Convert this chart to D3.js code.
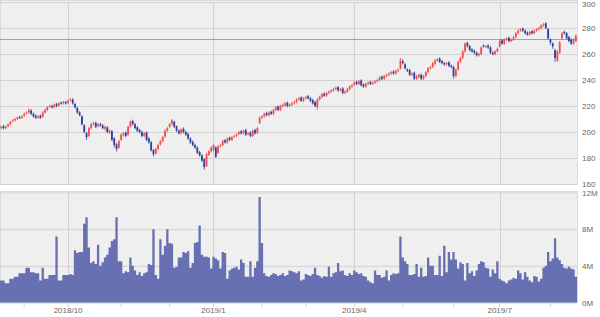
<!DOCTYPE html>
<html>
<head>
<meta charset="utf-8">
<script src="https://cdn.jsdelivr.net/npm/d3@7"></script>
<style>
  body { margin: 0; background: #fff; }
  svg { display: block; font-family: "DejaVu Sans Mono", monospace; }
  .tick text { fill: #666; font-size: 8px; }
</style>
</head>
<body>
<div id="chart"></div>
<script>
// trading calendar (US market), 2018/8/20 - 2019/8/16
var holidays = ['2018-09-03', '2018-11-22', '2018-12-05', '2018-12-25', '2019-01-01',
  '2019-01-21', '2019-02-18', '2019-04-19', '2019-05-27', '2019-07-04'];
var fmt = d3.timeFormat('%Y-%m-%d');
var dates = d3.timeDay.range(new Date(2018, 7, 20), new Date(2019, 7, 17))
  .filter((d) => d.getDay() !== 0 && d.getDay() !== 6 && holidays.indexOf(fmt(d)) < 0);

var open = [
  203,204.5,203,204.5,206,208.5,209,210,211.5,211,
  212.5,214.5,215,216.5,214,212.5,211,212.5,211.5,215,217,219.5,220,219,221.5,220.5,222.5,222,223,
  222.5,224.5,225,221.5,218.5,215,212,205,199,197,203,206.5,207,204.5,206,205,202.5,203.5,199.5,200.5,195,190.5,188,
  194,197.5,199.5,198,204,208.5,206,203.5,201.5,200,197,199.5,195,192,186,183.5,187,190.5,193,196.5,201,
  204,206,208,204.5,201,199,202.5,200,198.5,195,192.5,190,188,184.5,182,179,174,182.5,185,
  186,188,184,189.5,190,193.5,192,195.5,194,196.5,197,198.5,200.5,199,201.5,198.5,199.5,197,201.5,199.5,207,
  211,212,214.5,213,215.5,214,217,219.5,217,220,220.5,222.5,220,221,222,223,225,226.5,224,
  226,227.5,226,224.5,223,219,225,227,229.5,228,230,231,232,233,234.5,232,233.5,230,231,233,235,
  236.5,238.5,237,239.5,236.5,235,237,238.5,237,238,239,240,242.5,241,243,244,245,246.5,245,247,249,
  254.5,252,248,247.5,244,245.5,241,242.5,244,241,243,246,249,250,252.5,255,256.5,254.5,253,252,253.5,251,
  250,243,248,254,257,262,268.5,266,263.5,262.5,261,259,260,266.5,265.5,266.5,265,261,260,262,
  266,270.5,268,271,272.5,270,271,273,276,278,279.5,278,276.5,275,277.5,276,278,279,280,282,283.5,279,
  271,268,263,255,261,272,277,276,273,271,268,270
];
var high = [
  205,205.5,205,206.5,208.5,210,211,212,212.5,213,
  215,216,218,217.5,215,213.5,213,213.5,216,218,220,221,221,222,222.5,223,223.5,224,224,
  225,226,226,222.5,219.5,216,213,206,200,204,207,208,208,207,207,206,205,204.5,202,201.5,196,191.5,194,
  199,200,200.5,205,209,209.5,207,204.5,202.5,201,200,200.5,196,193,187,188,191,194,197,202,204,
  207,210,208.5,205,202,203,203.5,201,199.5,196,193.5,191,189,185.5,183,180,184,186,189,
  191,189,190,191,194,194.5,196,196.5,197,198,199,201,201.5,202,202.5,200,200.5,202,202.5,204,212,
  213,215,215.5,216,216.5,218,220,220.5,221,222,223,223.5,222,223,224,226,227,227.5,227,
  228,228.5,227,225.5,224,226,228,230,230.5,231,232,233,234,235,235.5,234,234.5,232,234,236,237,
  239,239.5,240,240.5,237.5,238,239,239.5,239,240,241,243,243.5,244,245,246,247,247.5,248,249,257,
  256,253,249,248.5,246,246.5,244,245,245,244,247,250,251,254,256,257,257.5,255.5,254,254,254.5,252,
  251,249,255,258,263,269,269.5,267,264.5,263.5,262,261,266,267.5,267,267.5,266,262,263,265,
  271,271.5,272,273,273.5,272,274,277,279,280,280.5,279,277.5,278,278.5,279,280,281,283,284,284.5,280,
  272,269,264,263,270,277,278,277,274,272,272,275
];
var low = [
  202,202,202,203.5,205,207.5,208,209,210,210,
  211.5,213.5,214,213,211,210,210,210,211,214,216,218.5,218,218,219,219.5,221,221,221,
  221.5,223.5,221,218,214,212,205,199,194,196,202,205,203,203.5,204,202,201,199,198.5,193,188,185,187,
  193,196.5,196,197,203,205,202,200,199,196,196,193,191,185,181,182.5,186,189.5,192,195.5,200,
  203,205,203,200,198,198,199,197,194,191,189,187,183,181,177,171,173,181.5,184,
  185,180,183,188,189,191,191,193,193,195.5,196,197.5,198,198,197,197.5,196,196,198,198.5,206,
  210,211,212,212,213,213,216,216,216,219,219.5,219,219,220,221,222,224,223,223,
  225,225,223,221,219,217,224,226,227,227,229,230,231,232,231,231,229,229,230,232,234,
  235.5,236,236,235,234,234,236,236,236,237,238,239,240,240,242,243,244,244,244,246,248,
  252,248,246,243,243,240,240,241.5,240,240,242,245,248,249,251.5,254,253,252,251,251,250,249,
  241,242,247,253,256,261,265,262,261,260,258,258,259,265,264.5,264,260,259,259,261,
  265,267,267,270,269,269,270,272,275,277,277,275,274,274,275,275,277,278,279,281,279,271,
  267,264,254,254,260,271,275,271,269,267,267,269
];
var close = [
  204,203,204,206,208,209,210,211,211,212,
  214,215,217,214,212,211,212,211,215,217,219,220,219,221,220,222,222,223,222,
  224,225,222,219,215,213,206,200,196,203,206,207,204,206,205,203,204,200,201,194,190,187,193,
  198,199,197,204,208,206,203,201,200,197,199,194,192,186,183,187,190,193,196,201,203,
  206,209,204,201,199,202,200,198,195,192,190,188,184,182,178,173,183,185,188,
  190,181,189,190,193,192,195,194,196,197,198,200,199,201,198,199,197,201,199,203,211,
  212,214,213,215,214,217,219,217,220,221,222,220,221,222,223,225,226,224,226,
  227,226,224,222,220,225,227,229,228,230,231,232,233,234,232,233,230,231,233,235,236,
  238,237,239,236,235,237,238,237,238,239,240,242,241,243,244,245,246,245,247,248,255,
  253,249,247,244,245,241,243,244,241,243,246,249,250,253,255,256,254,253,252,253,251,250,
  243,248,254,257,262,268,266,263,262,261,259,260,265,266,266,265,261,260,262,264,
  270,268,271,272,270,271,273,276,278,279,278,276,275,277,276,278,279,280,282,283,280,272,
  269,266,257,262,269,276,276,272,270,268,271,274
];
// volume, millions of shares
var volume = [
  2.4,2.4,2.1,2.1,2.6,2.6,2.8,2.8,3.2,3.2,
  3.2,3.8,3.8,3.3,3.3,3.2,3.2,2.4,3.8,2.6,2.6,3.0,3.0,3.0,7.2,2.4,2.4,3.0,3.0,
  3.0,3.1,3.0,5.7,5.4,5.5,5.5,8.6,9.3,6.0,4.3,4.5,4.2,6.3,4.0,4.4,4.9,5.2,6.0,6.7,6.9,9.3,4.5,
  4.5,3.2,3.4,3.3,4.9,4.0,3.5,3.0,3.3,2.9,3.2,3.3,4.2,4.1,8.0,3.0,2.6,6.9,5.2,6.2,8.0,
  6.5,6.4,3.8,3.9,4.9,4.9,5.5,5.4,5.6,3.8,4.3,6.5,6.6,8.4,5.2,5.0,5.0,4.9,3.7,
  5.0,4.8,4.6,3.7,5.5,5.4,2.6,3.5,3.7,3.8,3.9,3.6,4.7,4.3,2.8,2.8,4.5,2.8,3.8,4.5,11.5,
  6.5,3.2,2.9,2.8,3.0,3.2,3.1,2.9,3.0,3.2,2.9,3.0,3.5,3.4,3.3,3.2,3.4,2.4,2.5,
  3.1,3.0,2.9,3.1,3.8,3.0,2.9,2.7,2.9,2.8,3.9,2.8,3.2,3.3,4.3,3.4,3.5,3.0,2.9,3.2,3.0,
  3.5,3.3,3.1,3.2,2.9,2.8,2.4,2.2,2.1,3.5,3.0,3.0,2.7,2.8,3.5,2.4,3.0,3.2,3.1,3.2,7.2,
  4.9,4.5,4.2,3.0,3.0,3.1,4.2,2.8,3.8,2.8,2.9,4.9,4.0,4.0,3.0,3.0,5.1,2.9,6.2,3.3,5.5,4.7,
  5.5,4.7,3.7,4.4,4.2,2.4,4.3,3.2,3.4,2.9,3.5,4.2,4.5,4.4,3.8,3.7,2.8,3.6,3.2,4.5,
  2.6,2.4,2.3,2.1,2.4,2.5,2.7,2.6,3.5,3.2,2.5,3.3,2.8,2.4,2.2,2.9,2.8,2.3,2.6,3.8,4.0,5.5,
  4.5,4.8,7.0,4.9,4.6,4.2,3.8,3.7,3.9,3.7,3.6,2.8
];
var priceTicks = [160, 180, 200, 220, 240, 260, 280, 300];
var volumeTicks = [0, 4, 8, 12];
var refLine = 271.5;

var width = 600;
var height = 317;
var plotRight = 577;

var svg = d3.select('#chart')
  .append('svg')
  .attr('width', width)
  .attr('height', height);

var x = d3.scaleBand()
  .domain(d3.range(dates.length))
  .range([0, plotRight])
  .padding(0);

var y = d3.scaleLinear().domain([160, 300]).range([184, 2]);
var yv = d3.scaleLinear().domain([0, 12]).range([302.5, 192.5]);

// first trading day of every month
var monthStarts = d3.range(dates.length).filter((i) => i === 0 || dates[i].getMonth() !== dates[i - 1].getMonth());
monthStarts = monthStarts.filter((i) => dates[i].getDate() < 8);
var quarterStarts = monthStarts.filter((i) => dates[i].getMonth() % 3 === 0);

// panels
svg.append('rect').attr('x', 0.5).attr('y', 0.5).attr('width', plotRight).attr('height', 184)
  .attr('fill', '#efefef').attr('stroke', '#dcdcdc');
svg.append('rect').attr('x', 0.5).attr('y', 191.5).attr('width', plotRight).attr('height', 111)
  .attr('fill', '#efefef').attr('stroke', '#dcdcdc');

function styleGrid(g) {
  g.select('.domain').remove();
  g.selectAll('.tick line').attr('stroke', '#d2d2d2');
  g.selectAll('.tick text').attr('x', 5);
}

svg.append('g')
  .attr('transform', 'translate(' + plotRight + ',0)')
  .call(d3.axisRight(y).tickValues(priceTicks).tickSize(-plotRight).tickFormat(d3.format('d')))
  .call(styleGrid)
  .call((g) => g.selectAll('.tick text').filter((d) => d === 300).attr('dy', '0.55em'));

svg.append('g')
  .attr('transform', 'translate(' + plotRight + ',0)')
  .call(d3.axisRight(yv).tickValues(volumeTicks).tickSize(-plotRight).tickFormat((d) => d + 'M'))
  .call(styleGrid);

// vertical grid at quarter starts
var cx = (i) => x(i) + x.bandwidth() / 2;
[[2, 184], [192, 302]].forEach((r) => {
  svg.append('g').selectAll('line')
    .data(quarterStarts)
    .enter()
    .append('line')
    .attr('x1', (i) => Math.round(cx(i)) + 0.5)
    .attr('x2', (i) => Math.round(cx(i)) + 0.5)
    .attr('y1', r[0]).attr('y2', r[1])
    .attr('stroke', '#d2d2d2');
});

// volume as a stepped area (bars touching)
var volArea = d3.area()
  .curve(d3.curveStepAfter)
  .x((d) => d.x)
  .y0(yv(0))
  .y1((d) => yv(d.v));
var volPts = volume.map((v, i) => ({x: x(i), v: v}));
volPts.push({x: x(volume.length - 1) + x.bandwidth(), v: volume[volume.length - 1]});
svg.append('path')
  .attr('d', volArea(volPts))
  .attr('fill', '#6670b2');

// reference line, drawn as a thin filled band
svg.append('rect')
  .attr('x', 0)
  .attr('width', plotRight)
  .attr('y', Math.round(y(refLine)))
  .attr('height', 1)
  .attr('fill', '#ff3030')
  .attr('fill-opacity', 0.6);

// candles
var upColor = '#f24d4d';
var downColor = '#2f3f9e';
var candle = svg.append('g').selectAll('g')
  .data(d3.range(dates.length))
  .enter()
  .append('g');

candle.append('line')
  .attr('x1', cx).attr('x2', cx)
  .attr('y1', (i) => y(high[i]))
  .attr('y2', (i) => y(low[i]))
  .attr('stroke', (i) => close[i] >= open[i] ? upColor : downColor)
  .attr('stroke-width', 0.8);

candle.append('rect')
  .attr('x', (i) => cx(i) - 0.9)
  .attr('width', 1.8)
  .attr('y', (i) => y(Math.max(open[i], close[i])))
  .attr('height', (i) => Math.max(1, Math.abs(y(open[i]) - y(close[i]))))
  .attr('fill', (i) => close[i] >= open[i] ? upColor : downColor);

// time axis
var xAxis = d3.axisBottom(x)
  .tickValues(monthStarts)
  .tickSize(4)
  .tickFormat((i) => dates[i].getMonth() % 3 === 0 ? d3.timeFormat('%Y/')(dates[i]) + (dates[i].getMonth() + 1) : '');

svg.append('g')
  .attr('transform', 'translate(0,303)')
  .call(xAxis)
  .call((g) => {
    g.select('.domain').remove();
    g.selectAll('.tick line').attr('stroke', '#cfcfcf');
    g.selectAll('.tick text').attr('y', 4);
  });
</script>
</body>
</html>
